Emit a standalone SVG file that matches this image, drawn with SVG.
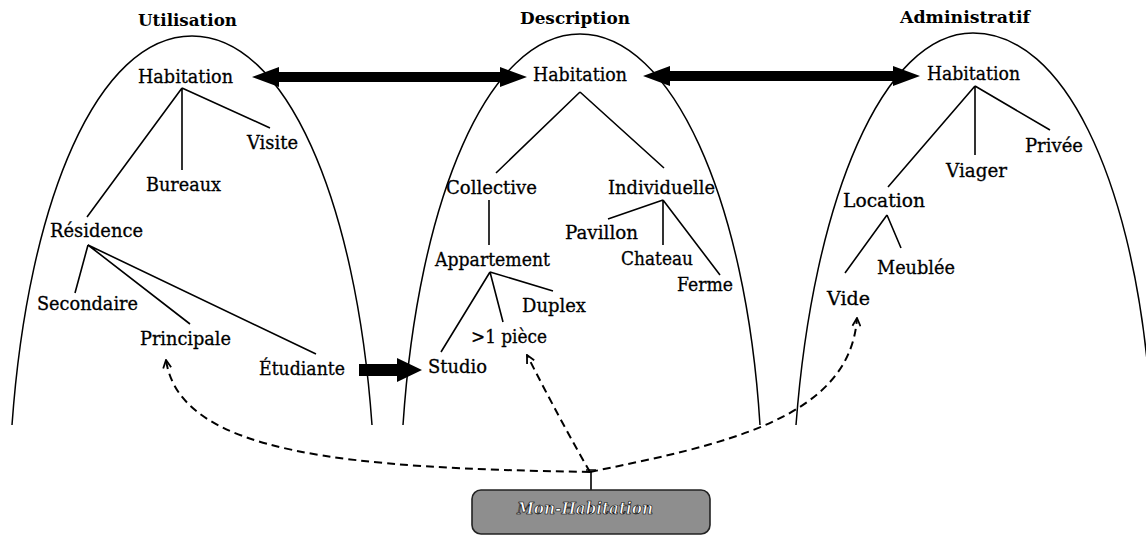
<svg xmlns="http://www.w3.org/2000/svg" width="1146" height="535" viewBox="0 0 1146 535">
  <style>
    .arc { fill: none; stroke: #000; stroke-width: 1.5; }
    .edge { fill: none; stroke: #000; stroke-width: 1.6; }
    .thick { fill: #000; stroke: none; }
    .dash { fill: none; stroke: #000; stroke-width: 2; stroke-dasharray: 8 5; }
    .lbl { font-family: "DejaVu Serif", "Liberation Serif", serif; font-size: 18px; fill: #000; stroke: #000; stroke-width: 0.3; }
    .head { font-family: "DejaVu Serif", "Liberation Serif", serif; font-size: 16px; font-weight: bold; fill: #000; }
    .obj { font-family: "DejaVu Serif", "Liberation Serif", serif; font-size: 17px; font-style: italic; font-weight: bold; fill: #fff; stroke: #000; stroke-width: 0.7; }
  </style>
  <defs>
    <marker id="open" viewBox="0 0 10 10" refX="9" refY="5" markerWidth="10" markerHeight="10" markerUnits="userSpaceOnUse" orient="auto">
      <path d="M1,1 L9,5 L1,9" fill="none" stroke="#000" stroke-width="1.8"/>
    </marker>
  </defs>
  <rect width="1146" height="535" fill="#fff"/>

  <!-- three viewpoint domes -->
  <g id="domes">
    <path class="arc" d="M12,425 C28,200 98,36 192,36 C286,36 356,200 372,425"/>
    <path class="arc" d="M403,425 C418,200 488,34 580,34 C672,34 746,200 760,425"/>
    <path class="arc" d="M796,425 C813,200 883,33 973,33 C1065,33 1130,180 1148,370"/>
  </g>

  <!-- headings -->
  <g id="headings">
    <text class="head" x="138" y="26" textLength="99" lengthAdjust="spacingAndGlyphs">Utilisation</text>
    <text class="head" x="520" y="24" textLength="110" lengthAdjust="spacingAndGlyphs">Description</text>
    <text class="head" x="900" y="23" textLength="130" lengthAdjust="spacingAndGlyphs">Administratif</text>
  </g>

  <!-- tree edges and links -->
  <g id="connectors">
    <!-- Utilisation tree -->
    <path class="edge" d="M182,88 L270,128 M182,88 L182,170 M182,88 L87,217"/>
    <path class="edge" d="M88,245 L75,293 M88,245 L190,324 M88,245 L316,354"/>
    <!-- Description tree -->
    <path class="edge" d="M580,92 L496,173 M580,92 L664,168"/>
    <path class="edge" d="M489,200 L489,245"/>
    <path class="edge" d="M663,200 L608,219 M663,200 L663,245 M663,200 L720,275"/>
    <path class="edge" d="M490,272 L441,352 M490,272 L503,322 M490,272 L553,291"/>
    <!-- Administratif tree -->
    <path class="edge" d="M975,86 L888,187 M975,86 L975,155 M975,86 L1050,130"/>
    <path class="edge" d="M887,215 L845,273 M887,215 L901,248"/>

    <!-- equivalence links between viewpoints -->
    <path class="thick" d="M252,77 L279,67 L279,72 L500,72 L500,67 L527,77 L500,87 L500,82 L279,82 L279,87 Z"/>
    <path class="thick" d="M643,76 L670,66 L670,71 L893,71 L893,66 L920,76 L893,86 L893,81 L670,81 L670,86 Z"/>
    <path class="thick" d="M359,364 L397,364 L397,358 L422,370 L397,382 L397,376 L359,376 Z"/>

    <!-- instance links -->
    <path class="dash" d="M590,472 C350,468 180,455 166,360" marker-end="url(#open)"/>
    <path class="dash" d="M590,472 Q560,420 527,355" marker-end="url(#open)"/>
    <path class="dash" d="M590,472 C720,445 850,420 857,318" marker-end="url(#open)"/>
    <path class="edge" d="M591,472 L591,490 M586,470 L596,470"/>
  </g>

  <!-- Utilisation nodes -->
  <g id="u-habitation"><text class="lbl" x="138" y="83" textLength="95" lengthAdjust="spacingAndGlyphs">Habitation</text></g>
  <g id="u-visite"><text class="lbl" x="247" y="149" textLength="51" lengthAdjust="spacingAndGlyphs">Visite</text></g>
  <g id="u-bureaux"><text class="lbl" x="146" y="191" textLength="75" lengthAdjust="spacingAndGlyphs">Bureaux</text></g>
  <g id="u-residence"><text class="lbl" x="50" y="237" textLength="93" lengthAdjust="spacingAndGlyphs">Résidence</text></g>
  <g id="u-secondaire"><text class="lbl" x="37" y="310" textLength="101" lengthAdjust="spacingAndGlyphs">Secondaire</text></g>
  <g id="u-principale"><text class="lbl" x="140" y="345" textLength="91" lengthAdjust="spacingAndGlyphs">Principale</text></g>
  <g id="u-etudiante"><text class="lbl" x="259" y="375" textLength="86" lengthAdjust="spacingAndGlyphs">Étudiante</text></g>

  <!-- Description nodes -->
  <g id="d-habitation"><text class="lbl" x="533" y="81" textLength="94" lengthAdjust="spacingAndGlyphs">Habitation</text></g>
  <g id="d-collective"><text class="lbl" x="446" y="194" textLength="91" lengthAdjust="spacingAndGlyphs">Collective</text></g>
  <g id="d-individuelle"><text class="lbl" x="608" y="194" textLength="107" lengthAdjust="spacingAndGlyphs">Individuelle</text></g>
  <g id="d-pavillon"><text class="lbl" x="565" y="239" textLength="73" lengthAdjust="spacingAndGlyphs">Pavillon</text></g>
  <g id="d-appartement"><text class="lbl" x="435" y="266" textLength="115" lengthAdjust="spacingAndGlyphs">Appartement</text></g>
  <g id="d-chateau"><text class="lbl" x="621" y="265" textLength="72" lengthAdjust="spacingAndGlyphs">Chateau</text></g>
  <g id="d-ferme"><text class="lbl" x="677" y="291" textLength="56" lengthAdjust="spacingAndGlyphs">Ferme</text></g>
  <g id="d-duplex"><text class="lbl" x="522" y="312" textLength="64" lengthAdjust="spacingAndGlyphs">Duplex</text></g>
  <g id="d-piece"><text class="lbl" x="471" y="343" textLength="76" lengthAdjust="spacingAndGlyphs">&gt;1 pièce</text></g>
  <g id="d-studio"><text class="lbl" x="428" y="373" textLength="59" lengthAdjust="spacingAndGlyphs">Studio</text></g>

  <!-- Administratif nodes -->
  <g id="a-habitation"><text class="lbl" x="927" y="80" textLength="93" lengthAdjust="spacingAndGlyphs">Habitation</text></g>
  <g id="a-privee"><text class="lbl" x="1025" y="152" textLength="58" lengthAdjust="spacingAndGlyphs">Privée</text></g>
  <g id="a-viager"><text class="lbl" x="946" y="177" textLength="61" lengthAdjust="spacingAndGlyphs">Viager</text></g>
  <g id="a-location"><text class="lbl" x="843" y="207" textLength="82" lengthAdjust="spacingAndGlyphs">Location</text></g>
  <g id="a-meublee"><text class="lbl" x="877" y="274" textLength="78" lengthAdjust="spacingAndGlyphs">Meublée</text></g>
  <g id="a-vide"><text class="lbl" x="827" y="305" textLength="43" lengthAdjust="spacingAndGlyphs">Vide</text></g>

  <!-- instance object -->
  <g id="mon-habitation">
    <rect x="472" y="490" width="238" height="44" rx="9" fill="#8e8e8e" stroke="#222" stroke-width="1.6"/>
    <text class="obj" x="517" y="514" textLength="136" lengthAdjust="spacingAndGlyphs">Mon-Habitation</text>
  </g>
</svg>
